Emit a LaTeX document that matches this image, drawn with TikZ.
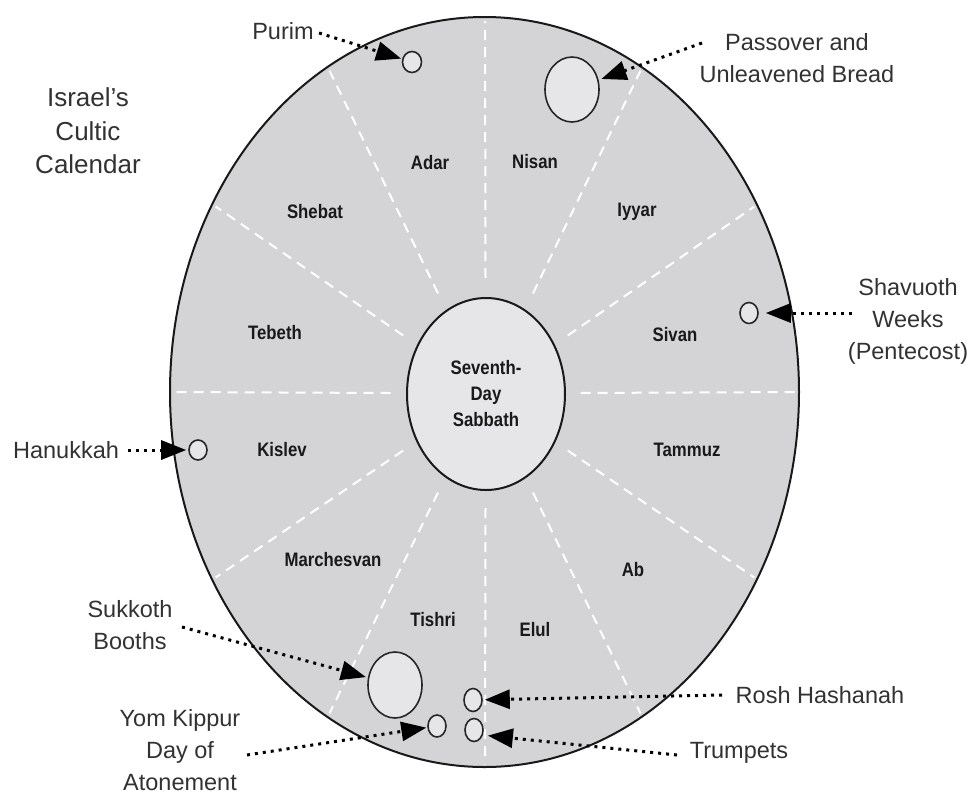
\documentclass[tikz,border=0pt]{standalone}
\usepackage{fontspec}
\setmainfont{Liberation Sans}
\usepackage{graphicx}
\usetikzlibrary{arrows.meta,shapes.geometric}
\definecolor{diskfill}{RGB}{212,212,214}
\definecolor{innerfill}{RGB}{230,230,232}
\definecolor{inkgray}{RGB}{50,50,50}
\newcommand{\cnd}[1]{\scalebox{0.86}[1]{#1}}
\begin{document}
\begin{tikzpicture}[x=1pt,y=-1pt,
  month/.style={font=\fontsize{19.5}{26}\selectfont\bfseries, text=black!90, inner sep=0pt},
  lbl/.style={font=\fontsize{23.5}{32}\selectfont, text=inkgray, align=center, inner sep=0pt},
  ttl/.style={font=\fontsize{26}{33.5}\selectfont, text=inkgray, align=center, inner sep=0pt},
  evt/.style={ellipse, draw=black!85, line width=1.6pt, fill=innerfill, inner sep=0pt},
  pointer/.style={draw=black, line width=3pt, dash pattern=on 3pt off 5pt,
    -{Triangle[length=25pt,width=19pt]}},
  divider/.style={draw=white, line width=2pt, dash pattern=on 10pt off 7pt}]
\useasboundingbox (0,0) rectangle (970,796);
\fill[white] (0,0) rectangle (970,796);

% main disk
\draw[fill=diskfill, draw=black!90, line width=2pt] (484.5,392) ellipse [x radius=314.5pt, y radius=375pt];

% month dividers
\foreach \a in {0,30,...,330}
  \draw[divider] ({485.5+95*cos(\a)},{393-115*sin(\a)}) -- ({485+311*cos(\a)},{392-371*sin(\a)});

% centre
\node[ellipse, draw=black!90, line width=2pt, fill=innerfill, minimum width=158pt, minimum height=192pt,
  align=center, font=\fontsize{19.5}{26}\selectfont\bfseries, text=black!90, inner sep=0pt]
  (sabbath) at (486,394) {\cnd{Seventh-}\\\cnd{Day}\\\cnd{Sabbath}};

% months
\node[month] (adar) at (430,163) {\cnd{Adar}};
\node[month] (nisan) at (535,162) {\cnd{Nisan}};
\node[month] (shebat) at (315,212) {\cnd{Shebat}};
\node[month] (iyyar) at (637,212) {\cnd{Iyyar}};
\node[month] (tebeth) at (275,333) {\cnd{Tebeth}};
\node[month] (sivan) at (675,335) {\cnd{Sivan}};
\node[month] (kislev) at (282,450) {\cnd{Kislev}};
\node[month] (tammuz) at (687,450) {\cnd{Tammuz}};
\node[month] (marchesvan) at (333,560) {\cnd{Marchesvan}};
\node[month] (ab) at (633,570) {\cnd{Ab}};
\node[month] (tishri) at (433,620) {\cnd{Tishri}};
\node[month] (elul) at (535,630) {\cnd{Elul}};

% feast markers
\node[evt, minimum width=19pt, minimum height=21pt] (purim) at (412,62) {};
\node[evt, minimum width=54pt, minimum height=65pt] (passover) at (572,89.5) {};
\node[evt, minimum width=18pt, minimum height=21pt] (shavuoth) at (749,313) {};
\node[evt, minimum width=18pt, minimum height=20pt] (hanukkah) at (198,450) {};
\node[evt, minimum width=54pt, minimum height=66pt] (sukkoth) at (395,685) {};
\node[evt, minimum width=18pt, minimum height=22pt] (yomkippur) at (437,726) {};
\node[evt, minimum width=18pt, minimum height=23pt] (rosh) at (473,700) {};
\node[evt, minimum width=18pt, minimum height=23pt] (trumpets) at (474,730) {};

% title
\node[ttl] (title) at (88,131) {Israel's\\Cultic\\Calendar};

% labels
\node[lbl] (purimlbl) at (283,31) {Purim};
\node[lbl] (passoverlbl) at (797,58) {Passover and\\Unleavened Bread};
\node[lbl] (shavuothlbl) at (908,321) {Shavuoth\\Weeks\\(Pentecost)};
\node[lbl] (hanukkahlbl) at (66,450) {Hanukkah};
\node[lbl] (sukkothlbl) at (130,625) {Sukkoth\\Booths};
\node[lbl] (yomkippurlbl) at (180,750) {Yom Kippur\\Day of\\Atonement};
\node[lbl] (roshlbl) at (820,695) {Rosh Hashanah};
\node[lbl] (trumpetslbl) at (739,753) {Trumpets};

% pointer start points
\coordinate (purimS) at (319,33);
\coordinate (passoverS) at (702,43);
\coordinate (shavuothS) at (852,313);
\coordinate (hanukkahS) at (128,450);
\coordinate (sukkothS) at (182,627);
\coordinate (yomkippurS) at (247,755);
\coordinate (roshS) at (722,695);
\coordinate (trumpetsS) at (677,755);

% pointers
\draw[pointer, shorten >=1pt] (purimS) -- (purim);
\draw[pointer, shorten >=3pt] (passoverS) -- (passover);
\draw[pointer, shorten >=7pt] (shavuothS) -- (shavuoth);
\draw[pointer, shorten >=2pt] (hanukkahS) -- (hanukkah);
\draw[pointer, shorten >=2pt] (sukkothS) -- (sukkoth);
\draw[pointer, shorten >=1pt] (yomkippurS) -- (yomkippur);
\draw[pointer, shorten >=2pt] (roshS) -- (rosh);
\draw[pointer, shorten >=5pt] (trumpetsS) -- (trumpets.-30);
\end{tikzpicture}
\end{document}
